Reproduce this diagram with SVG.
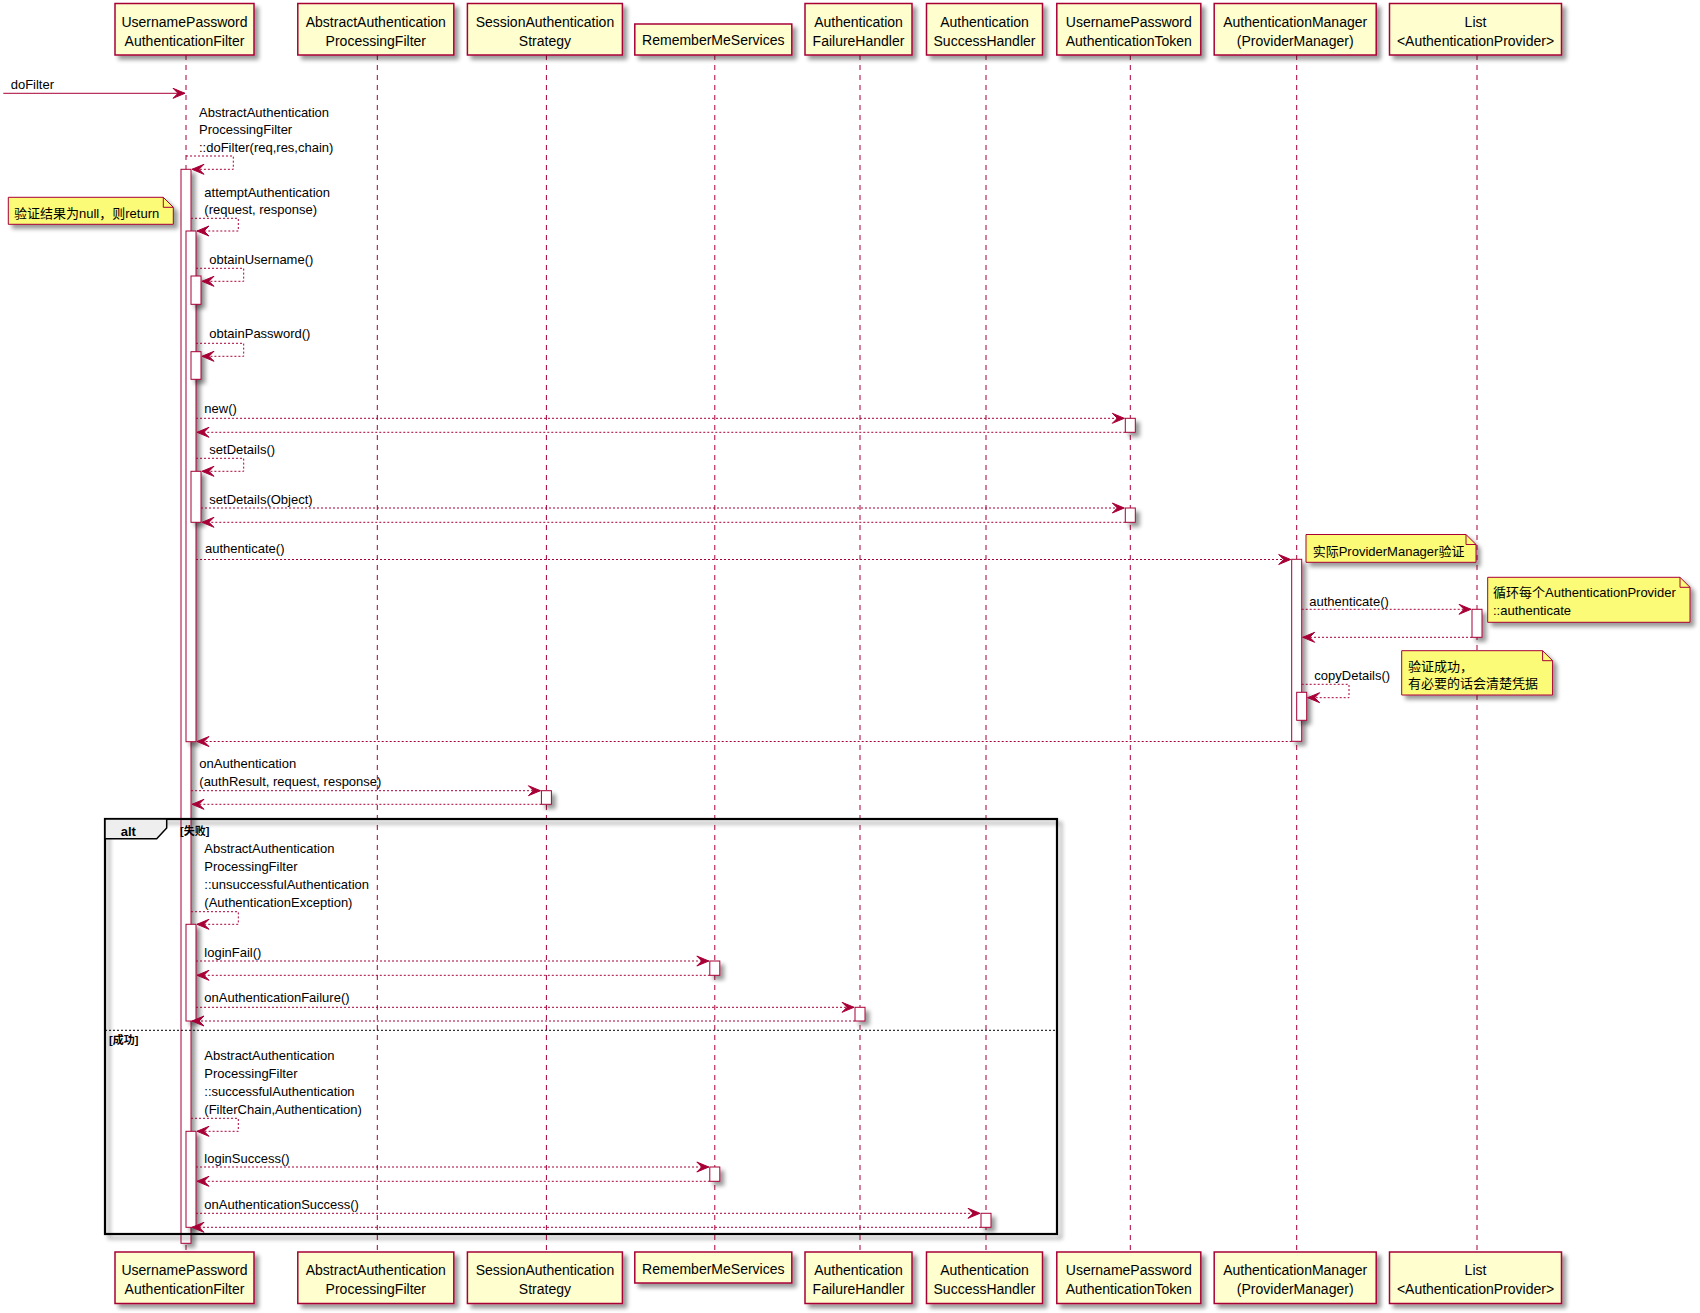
<svg xmlns="http://www.w3.org/2000/svg" width="1700" height="1313" viewBox="0 0 1700 1313">
<defs>
<filter id="sh" filterUnits="userSpaceOnUse" x="0" y="0" width="1700" height="1313">
<feGaussianBlur in="SourceAlpha" stdDeviation="2" result="b"/>
<feOffset in="b" dx="4" dy="4" result="o"/>
<feComponentTransfer in="o" result="s"><feFuncA type="linear" slope="0.4"/></feComponentTransfer>
<feMerge><feMergeNode in="s"/><feMergeNode in="SourceGraphic"/></feMerge>
</filter>
<marker id="ah" markerWidth="14" markerHeight="12" refX="12" refY="5" orient="auto" markerUnits="userSpaceOnUse" overflow="visible">
<path d="M0,0 L12,5 L0,10 L5,5 Z" fill="#A80036" stroke="#A80036" stroke-width="1"/>
</marker>
<style>
.life{stroke:#A80036;stroke-width:1;stroke-dasharray:5,5;fill:none}
.msg{stroke:#A80036;stroke-width:1;stroke-dasharray:2,2;fill:none;marker-end:url(#ah)}
.sol{stroke:#A80036;stroke-width:1;fill:none;marker-end:url(#ah)}
.act{fill:#FFFFFF;stroke:#A80036;stroke-width:1;filter:url(#sh)}
.part{fill:#FEFECE;stroke:#A80036;stroke-width:1.5;filter:url(#sh)}
.note{fill:#FBFB77;stroke:#A80036;stroke-width:1;filter:url(#sh)}
.fold{fill:none;stroke:#A80036;stroke-width:1}
.pt{font-family:"Liberation Sans",Arial,sans-serif;font-size:14px;text-anchor:middle;fill:#000}
.mt{font-family:"Liberation Sans","Noto Sans CJK SC",sans-serif;font-size:13px;fill:#000}
.gt{font-family:"Liberation Sans","Noto Sans CJK SC",sans-serif;font-size:11px;font-weight:bold;fill:#000}
</style>
</defs>
<rect width="1700" height="1313" fill="#FFFFFF"/>

<g id="lifelines">
<line class="life" x1="186" y1="55" x2="186" y2="1252"/>
<line class="life" x1="377.3" y1="55" x2="377.3" y2="1252"/>
<line class="life" x1="546.4" y1="55" x2="546.4" y2="1252"/>
<line class="life" x1="714.8" y1="55" x2="714.8" y2="1252"/>
<line class="life" x1="860" y1="55" x2="860" y2="1252"/>
<line class="life" x1="986" y1="55" x2="986" y2="1252"/>
<line class="life" x1="1130.3" y1="55" x2="1130.3" y2="1252"/>
<line class="life" x1="1296.7" y1="55" x2="1296.7" y2="1252"/>
<line class="life" x1="1477" y1="55" x2="1477" y2="1252"/>
</g>

<g id="activations">
<rect class="act" x="181" y="169.3" width="10" height="1074"/>
<rect class="act" x="186" y="231" width="10" height="510.7"/>
<rect class="act" x="191" y="276" width="10" height="28.3"/>
<rect class="act" x="191" y="351.7" width="10" height="27.6"/>
<rect class="act" x="191" y="471.3" width="10" height="51"/>
<rect class="act" x="1125.3" y="418.3" width="10" height="14"/>
<rect class="act" x="1125.3" y="508" width="10" height="14.3"/>
<rect class="act" x="1291.7" y="559.3" width="10" height="182"/>
<rect class="act" x="1472" y="609.3" width="10" height="28"/>
<rect class="act" x="1296.7" y="692.3" width="10" height="28"/>
<rect class="act" x="541.4" y="790.7" width="10" height="13.6"/>
<rect class="act" x="186" y="924.3" width="10" height="96.7"/>
<rect class="act" x="709.8" y="961" width="10" height="14.3"/>
<rect class="act" x="855" y="1007.3" width="10" height="13.7"/>
<rect class="act" x="186" y="1131.3" width="10" height="96"/>
<rect class="act" x="709.8" y="1167" width="10" height="14.3"/>
<rect class="act" x="981" y="1213.3" width="10" height="14"/>
</g>

<g id="alt-frame">
<rect x="105" y="819" width="952" height="415" fill="none" stroke="#000" stroke-width="2.2" filter="url(#sh)"/>
<path d="M105,819 H166.7 V828 L156.7,838.7 H105 Z" fill="#EEEEEE" stroke="#000" stroke-width="1.5"/>
<text x="120.7" y="835.5" font-family="'Liberation Sans',Arial,sans-serif" font-size="13" font-weight="bold">alt</text>
<text class="gt" x="180" y="834.5">[失败]</text>
<line x1="105" y1="1030.3" x2="1057" y2="1030.3" stroke="#000" stroke-width="1" stroke-dasharray="2,2"/>
<text class="gt" x="109" y="1043.5">[成功]</text>
</g>

<g id="connectors">
<line class="sol" x1="3.3" y1="93.3" x2="185" y2="93.3"/>
<text class="mt" x="10.7" y="89">doFilter</text>

<path class="msg" d="M186,156 H233.3 V169.3 H192"/>
<text class="mt" x="199" y="116.5">AbstractAuthentication</text>
<text class="mt" x="199" y="134">ProcessingFilter</text>
<text class="mt" x="199" y="151.5">::doFilter(req,res,chain)</text>

<path class="msg" d="M191,218.3 H238.3 V231 H197"/>
<text class="mt" x="204.3" y="196.5">attemptAuthentication</text>
<text class="mt" x="204.3" y="214">(request, response)</text>

<path class="msg" d="M196,268.3 H243.7 V281.3 H202"/>
<text class="mt" x="209.3" y="264">obtainUsername()</text>

<path class="msg" d="M196,343.3 H243.7 V356.3 H202"/>
<text class="mt" x="209.3" y="338">obtainPassword()</text>

<line class="msg" x1="196" y1="418.3" x2="1124.3" y2="418.3"/>
<text class="mt" x="204.3" y="413">new()</text>
<line class="msg" x1="1125.3" y1="432.3" x2="197" y2="432.3"/>

<path class="msg" d="M196,458.3 H243.7 V471.3 H202"/>
<text class="mt" x="209.3" y="454">setDetails()</text>

<line class="msg" x1="201" y1="508" x2="1124.3" y2="508"/>
<text class="mt" x="209.3" y="504">setDetails(Object)</text>
<line class="msg" x1="1125.3" y1="522.3" x2="202" y2="522.3"/>

<line class="msg" x1="196" y1="559.5" x2="1290.7" y2="559.5"/>
<text class="mt" x="205" y="553.3">authenticate()</text>

<line class="msg" x1="1301.7" y1="609.3" x2="1471" y2="609.3"/>
<text class="mt" x="1309.3" y="605.7">authenticate()</text>
<line class="msg" x1="1472" y1="637.3" x2="1302.7" y2="637.3"/>

<path class="msg" d="M1301.7,684.3 H1349 V697.7 H1307.7"/>
<text class="mt" x="1314.3" y="679.7">copyDetails()</text>

<line class="msg" x1="1291.7" y1="741.5" x2="197" y2="741.5"/>

<line class="msg" x1="191" y1="790.7" x2="540.4" y2="790.7"/>
<text class="mt" x="199.3" y="768">onAuthentication</text>
<text class="mt" x="199.3" y="786">(authResult, request, response)</text>
<line class="msg" x1="541.4" y1="804.3" x2="192" y2="804.3"/>

<path class="msg" d="M191,911.7 H238.3 V924.3 H197"/>
<text class="mt" x="204.3" y="853">AbstractAuthentication</text>
<text class="mt" x="204.3" y="871">ProcessingFilter</text>
<text class="mt" x="204.3" y="889">::unsuccessfulAuthentication</text>
<text class="mt" x="204.3" y="907">(AuthenticationException)</text>

<line class="msg" x1="196" y1="961" x2="708.8" y2="961"/>
<text class="mt" x="204.3" y="957">loginFail()</text>
<line class="msg" x1="709.8" y1="975.3" x2="197" y2="975.3"/>

<line class="msg" x1="196" y1="1007.3" x2="854" y2="1007.3"/>
<text class="mt" x="204.3" y="1002">onAuthenticationFailure()</text>
<line class="msg" x1="855" y1="1021" x2="192" y2="1021"/>

<path class="msg" d="M191,1118.3 H238.3 V1131.3 H197"/>
<text class="mt" x="204.3" y="1060">AbstractAuthentication</text>
<text class="mt" x="204.3" y="1078">ProcessingFilter</text>
<text class="mt" x="204.3" y="1096">::successfulAuthentication</text>
<text class="mt" x="204.3" y="1113.5">(FilterChain,Authentication)</text>

<line class="msg" x1="196" y1="1167" x2="708.8" y2="1167"/>
<text class="mt" x="204.3" y="1163">loginSuccess()</text>
<line class="msg" x1="709.8" y1="1181.3" x2="197" y2="1181.3"/>

<line class="msg" x1="196" y1="1213.3" x2="980" y2="1213.3"/>
<text class="mt" x="204.3" y="1209">onAuthenticationSuccess()</text>
<line class="msg" x1="981" y1="1227.3" x2="192" y2="1227.3"/>
</g>

<g id="note-null">
<path class="note" d="M8.3,197.3 H163.3 L173.3,207.3 V224.3 H8.3 Z"/>
<path class="fold" d="M163.3,197.3 V207.3 H173.3"/>
<text class="mt" x="14" y="218">验证结果为null，则return</text>
</g>
<g id="note-provider">
<path class="note" d="M1306,534.5 H1466 L1476,544.5 V562.3 H1306 Z"/>
<path class="fold" d="M1466,534.5 V544.5 H1476"/>
<text class="mt" x="1312.7" y="555.5">实际ProviderManager验证</text>
</g>
<g id="note-loop">
<path class="note" d="M1487.7,577.3 H1680 L1690,587.3 V622.3 H1487.7 Z"/>
<path class="fold" d="M1680,577.3 V587.3 H1690"/>
<text class="mt" x="1493" y="596.5">循环每个AuthenticationProvider</text>
<text class="mt" x="1493" y="615">::authenticate</text>
</g>
<g id="note-success">
<path class="note" d="M1401.7,650.7 H1542.6 L1552.6,660.7 V695 H1401.7 Z"/>
<path class="fold" d="M1542.6,650.7 V660.7 H1552.6"/>
<text class="mt" x="1408" y="671">验证成功，</text>
<text class="mt" x="1408" y="688">有必要的话会清楚凭据</text>
</g>

<g id="p-upaf">
<rect class="part" x="115" y="3.5" width="139" height="51.5"/>
<text class="pt" x="184.5" y="26.5">UsernamePassword</text>
<text class="pt" x="184.5" y="45.5">AuthenticationFilter</text>
<rect class="part" x="115" y="1252" width="139" height="51.5"/>
<text class="pt" x="184.5" y="1275">UsernamePassword</text>
<text class="pt" x="184.5" y="1294">AuthenticationFilter</text>
</g>
<g id="p-aapf">
<rect class="part" x="297.8" y="3.5" width="156" height="51.5"/>
<text class="pt" x="375.8" y="26.5">AbstractAuthentication</text>
<text class="pt" x="375.8" y="45.5">ProcessingFilter</text>
<rect class="part" x="297.8" y="1252" width="156" height="51.5"/>
<text class="pt" x="375.8" y="1275">AbstractAuthentication</text>
<text class="pt" x="375.8" y="1294">ProcessingFilter</text>
</g>
<g id="p-session">
<rect class="part" x="467.4" y="3.5" width="155" height="51.5"/>
<text class="pt" x="544.9" y="26.5">SessionAuthentication</text>
<text class="pt" x="544.9" y="45.5">Strategy</text>
<rect class="part" x="467.4" y="1252" width="155" height="51.5"/>
<text class="pt" x="544.9" y="1275">SessionAuthentication</text>
<text class="pt" x="544.9" y="1294">Strategy</text>
</g>
<g id="p-rememberme">
<rect class="part" x="634.8" y="24" width="157" height="31"/>
<text class="pt" x="713.3" y="45">RememberMeServices</text>
<rect class="part" x="634.8" y="1252" width="157" height="31"/>
<text class="pt" x="713.3" y="1273.5">RememberMeServices</text>
</g>
<g id="p-failure">
<rect class="part" x="805" y="3.5" width="107" height="51.5"/>
<text class="pt" x="858.5" y="26.5">Authentication</text>
<text class="pt" x="858.5" y="45.5">FailureHandler</text>
<rect class="part" x="805" y="1252" width="107" height="51.5"/>
<text class="pt" x="858.5" y="1275">Authentication</text>
<text class="pt" x="858.5" y="1294">FailureHandler</text>
</g>
<g id="p-success">
<rect class="part" x="926.5" y="3.5" width="116" height="51.5"/>
<text class="pt" x="984.5" y="26.5">Authentication</text>
<text class="pt" x="984.5" y="45.5">SuccessHandler</text>
<rect class="part" x="926.5" y="1252" width="116" height="51.5"/>
<text class="pt" x="984.5" y="1275">Authentication</text>
<text class="pt" x="984.5" y="1294">SuccessHandler</text>
</g>
<g id="p-token">
<rect class="part" x="1056.8" y="3.5" width="144" height="51.5"/>
<text class="pt" x="1128.8" y="26.5">UsernamePassword</text>
<text class="pt" x="1128.8" y="45.5">AuthenticationToken</text>
<rect class="part" x="1056.8" y="1252" width="144" height="51.5"/>
<text class="pt" x="1128.8" y="1275">UsernamePassword</text>
<text class="pt" x="1128.8" y="1294">AuthenticationToken</text>
</g>
<g id="p-manager">
<rect class="part" x="1214.2" y="3.5" width="162" height="51.5"/>
<text class="pt" x="1295.2" y="26.5">AuthenticationManager</text>
<text class="pt" x="1295.2" y="45.5">(ProviderManager)</text>
<rect class="part" x="1214.2" y="1252" width="162" height="51.5"/>
<text class="pt" x="1295.2" y="1275">AuthenticationManager</text>
<text class="pt" x="1295.2" y="1294">(ProviderManager)</text>
</g>
<g id="p-list">
<rect class="part" x="1389.5" y="3.5" width="172" height="51.5"/>
<text class="pt" x="1475.5" y="26.5">List</text>
<text class="pt" x="1475.5" y="45.5">&lt;AuthenticationProvider&gt;</text>
<rect class="part" x="1389.5" y="1252" width="172" height="51.5"/>
<text class="pt" x="1475.5" y="1275">List</text>
<text class="pt" x="1475.5" y="1294">&lt;AuthenticationProvider&gt;</text>
</g>
</svg>
